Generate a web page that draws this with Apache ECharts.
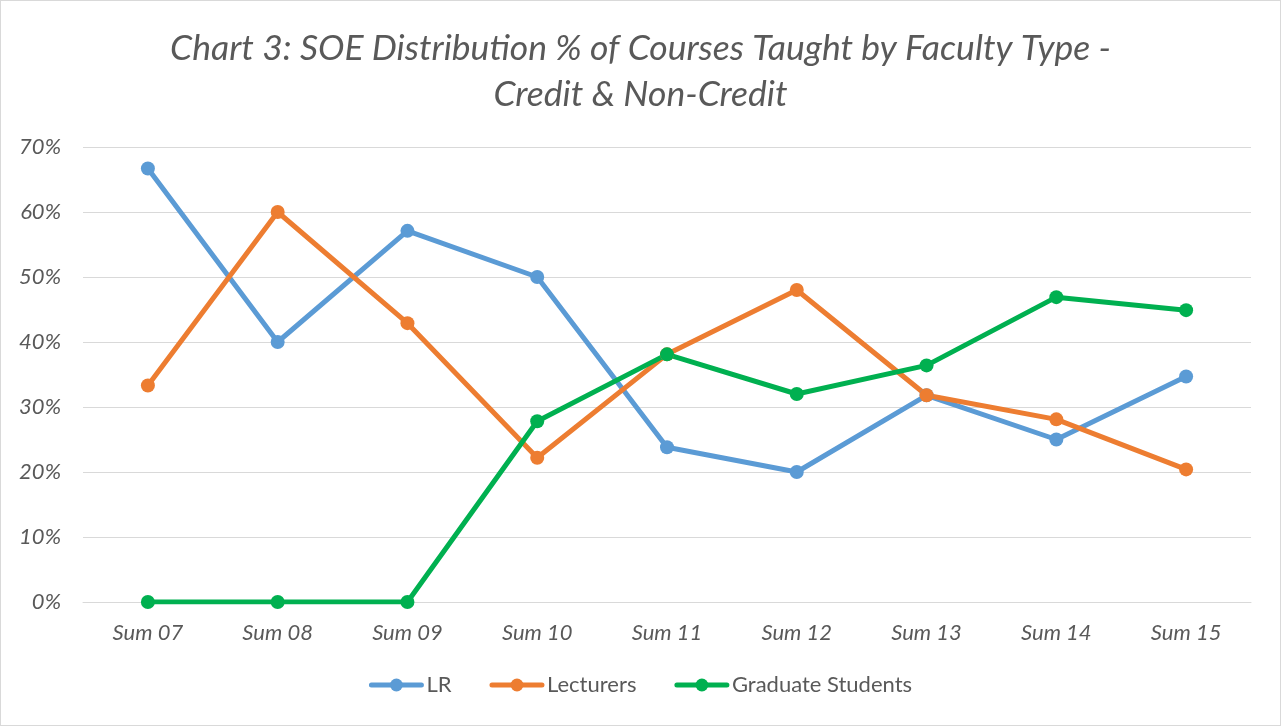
<!DOCTYPE html>
<html>
<head>
<meta charset="utf-8">
<script src="https://cdn.jsdelivr.net/npm/echarts@6/dist/echarts.min.js"></script>
<style>
  html, body { margin: 0; padding: 0; background: #fff; }
  #main { width: 1281px; height: 726px; box-sizing: border-box; border: 1px solid #d9d9d9; }
</style>
</head>
<body>
<div id="main"></div>
<script>
// data
var categories = ['Sum 07', 'Sum 08', 'Sum 09', 'Sum 10', 'Sum 11', 'Sum 12', 'Sum 13', 'Sum 14', 'Sum 15'];
var lrValues = [66.7, 40.0, 57.1, 50.0, 23.8, 20.0, 31.8, 25.0, 34.7];
var lecturerValues = [33.3, 60.0, 42.9, 22.2, 38.1, 48.0, 31.8, 28.1, 20.4];
var gradValues = [0, 0, 0, 27.8, 38.1, 32.0, 36.4, 46.9, 44.9];
var seriesNames = ['LR', 'Lecturers', 'Graduate Students'];
var colors = ['#5b9bd5', '#ed7d31', '#00b050'];

var font = 'Lato, "Open Sans", sans-serif';
var chart = echarts.init(document.getElementById('main'));

function makeSeries(name, data, color) {
  return {
    name: name,
    type: 'line',
    data: data,
    symbol: 'circle',
    symbolSize: 14,
    lineStyle: { width: 5, color: color },
    itemStyle: { color: color },
    z: 2
  };
}

var option = {
  animation: false,
  color: colors,
  title: {
    text: 'Chart 3: SOE Distribution % of Courses Taught by Faculty Type -\nCredit & Non-Credit',
    left: 'center',
    top: 20,
    textStyle: {
      fontFamily: font,
      fontStyle: 'italic',
      fontWeight: 'normal',
      fontSize: 35.5,
      lineHeight: 46,
      color: '#595959'
    }
  },
  legend: {
    data: seriesNames,
    bottom: 24,
    left: 'center',
    itemWidth: 50,
    itemHeight: 16,
    itemGap: 38,
    lineStyle: { width: 5, cap: 'round' },
    textStyle: { fontFamily: font, fontSize: 22, color: '#595959' }
  },
  grid: { left: 82, right: 29, top: 146, bottom: 123, containLabel: false },
  xAxis: {
    type: 'category',
    data: categories,
    boundaryGap: true,
    axisLine: { lineStyle: { color: '#d9d9d9', width: 1 } },
    axisTick: { show: false },
    axisLabel: {
      fontFamily: font, fontStyle: 'italic', fontSize: 22, color: '#595959', margin: 20
    }
  },
  yAxis: {
    type: 'value',
    min: 0,
    max: 70,
    interval: 10,
    axisLine: { show: false },
    axisTick: { show: false },
    splitLine: { lineStyle: { color: '#d9d9d9', width: 1 } },
    axisLabel: {
      formatter: '{value}%',
      fontFamily: font, fontStyle: 'italic', fontSize: 22, color: '#595959', margin: 22
    }
  },
  series: [
    makeSeries(seriesNames[0], lrValues, colors[0]),
    makeSeries(seriesNames[1], lecturerValues, colors[1]),
    makeSeries(seriesNames[2], gradValues, colors[2])
  ]
};

chart.setOption(option);
</script>
</body>
</html>
